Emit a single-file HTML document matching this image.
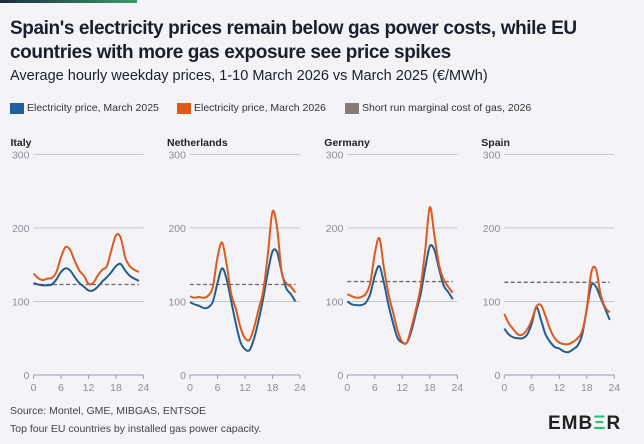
<!DOCTYPE html>
<html><head><meta charset="utf-8"><style>
body{margin:0;width:644px;height:444px;background:#f4f4f8;font-family:"Liberation Sans",sans-serif;overflow:hidden;position:relative}
.bar{position:absolute;left:0;top:0;width:137px;height:3px;background:linear-gradient(90deg,#1c2b3e,#3a9a6a)}
.t{position:absolute;left:10px;top:17px;font-size:19px;font-weight:bold;color:#1a1f2e;line-height:24px;letter-spacing:-0.4px}
.s{position:absolute;left:10px;top:68px;font-size:14.5px;color:#1a1f2e}
.lg{position:absolute;top:102px;font-size:10.5px;color:#333;display:flex;align-items:center}
.lg i{display:inline-block;width:14px;height:11px;margin-right:3px}
.f{position:absolute;left:10px;font-size:10.5px;color:#444}
.em{position:absolute;left:548px;top:413px;font-size:19px;font-weight:bold;color:#222;letter-spacing:1px}
</style></head><body>
<div class="bar"></div>
<div class="t">Spain's electricity prices remain below gas power costs, while EU<br>countries with more gas exposure see price spikes</div>
<div class="s">Average hourly weekday prices, 1-10 March 2026 vs March 2025 (€/MWh)</div>
<div class="lg" style="left:10px"><i style="background:#1f5fa0"></i>Electricity price, March 2025</div>
<div class="lg" style="left:177px"><i style="background:#e0571a"></i>Electricity price, March 2026</div>
<div class="lg" style="left:345px"><i style="background:#857a76"></i>Short run marginal cost of gas, 2026</div>
<svg id="s" width="644" height="444" style="position:absolute;left:0;top:0"></svg>
<div class="f" style="top:405px">Source: Montel, GME, MIBGAS, ENTSOE</div>
<div class="f" style="top:423px">Top four EU countries by installed gas power capacity.</div>
<div class="em">EMB<span style="color:#2fbf71">Ξ</span>R</div>
<script>
const P=[
{n:"Italy",x0:33.5,g:123,
b:[125,123,122,122,123,130,140,145,142,133,125,120,115,115,120,127,133,140,148,151,142,135,131,128],
o:[138,132,129,131,132,140,160,174,170,155,142,135,124,125,135,143,148,170,190,187,160,148,143,140]},
{n:"Netherlands",x0:190,g:123,
b:[99,96,94,91,92,100,125,145,130,100,70,45,35,34,50,75,105,140,168,167,140,118,110,100],
o:[107,105,106,105,108,120,160,180,150,110,90,65,50,48,65,90,115,165,222,200,140,125,120,112]},
{n:"Germany",x0:347.3,g:127,
b:[100,96,95,95,98,110,135,148,125,95,70,50,44,44,60,85,110,145,175,170,145,122,113,103],
o:[110,107,105,106,110,125,165,186,145,110,85,60,45,44,65,90,120,170,228,190,150,130,120,112]},
{n:"Spain",x0:504.3,g:126,
b:[63,55,51,50,50,55,70,92,75,55,45,38,36,32,31,35,40,55,90,122,120,105,90,75],
o:[83,70,62,55,55,62,75,93,95,80,62,50,44,42,42,45,50,60,90,140,144,110,92,85]}];
const W=110,Y=v=>375-0.7356*v;
let h="";
function path(x0,d){let pts=d.map((v,i)=>[x0+i*W/24,Y(v)]);let s="M"+pts[0].join(",");
for(let i=0;i<pts.length-1;i++){let p0=pts[i-1]||pts[i],p1=pts[i],p2=pts[i+1],p3=pts[i+2]||p2;
s+=` C${p1[0]+(p2[0]-p0[0])/6},${p1[1]+(p2[1]-p0[1])/6} ${p2[0]-(p3[0]-p1[0])/6},${p2[1]-(p3[1]-p1[1])/6} ${p2[0]},${p2[1]}`;}return s;}
for(const p of P){const x0=p.x0;
h+=`<text x="${x0-23}" y="146" font-size="10.5" font-weight="bold" fill="#222" font-family="Liberation Sans">${p.n}</text>`;
for(const v of [100,200,300]){h+=`<line x1="${x0}" x2="${x0+W}" y1="${Y(v)}" y2="${Y(v)}" stroke="#c4c6d2" stroke-width="1"/>`;
h+=`<text x="${x0-4}" y="${Y(v)+4}" text-anchor="end" font-size="10.5" fill="#8a8d9a" font-family="Liberation Sans">${v}</text>`;}
h+=`<text x="${x0-4}" y="${Y(0)+4}" text-anchor="end" font-size="10.5" fill="#8a8d9a" font-family="Liberation Sans">0</text>`;
h+=`<line x1="${x0}" x2="${x0+W}" y1="375" y2="375" stroke="#9a9db0"/>`;
for(const t of [0,6,12,18,24]){const x=x0+t*W/24;h+=`<line x1="${x}" x2="${x}" y1="375" y2="379" stroke="#9a9db0"/><text x="${x}" y="391" text-anchor="middle" font-size="10.5" fill="#8a8d9a" font-family="Liberation Sans">${t}</text>`;}
h+=`<line x1="${x0}" x2="${x0+W*23/24}" y1="${Y(p.g)}" y2="${Y(p.g)}" stroke="#6e6766" stroke-width="1.3" stroke-dasharray="4,2.5"/>`;
h+=`<path d="${path(x0,p.b)}" fill="none" stroke="#245c8e" stroke-width="2"/>`;
h+=`<path d="${path(x0,p.o)}" fill="none" stroke="#dc5a1e" stroke-width="2"/>`;}
document.getElementById("s").innerHTML=h;
</script>
</body></html>
